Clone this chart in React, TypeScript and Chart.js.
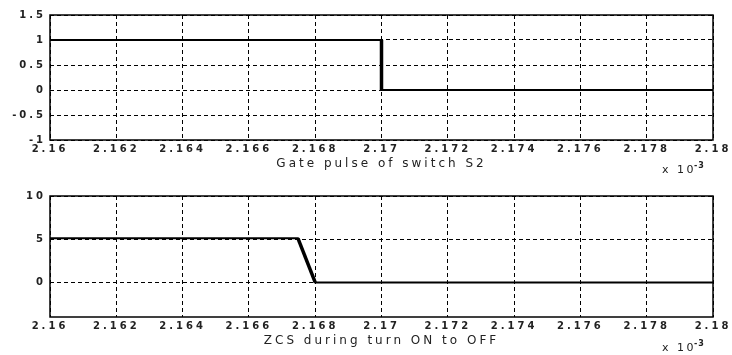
import React, { useEffect, useRef } from 'react';
import { Chart, registerables } from 'chart.js';

Chart.register(...registerables);

// ---- data ----
const xTicks = [2.16, 2.162, 2.164, 2.166, 2.168, 2.17, 2.172, 2.174, 2.176, 2.178, 2.18];
const xTickLabels = ['2.16', '2.162', '2.164', '2.166', '2.168', '2.17', '2.172', '2.174', '2.176', '2.178', '2.18'];

const gateX = [2.16, 2.17, 2.17, 2.18];
const gateY = [1, 1, 0, 0];
const gateYTicks = [-1, -0.5, 0, 0.5, 1, 1.5];
const gateYLabels = ['-1', '-0.5', '0', '0.5', '1', '1.5'];
const gateTitle = 'Gate pulse of switch S2';

const zcsX = [2.16, 2.16748, 2.168, 2.18];
const zcsY = [5.1, 5.1, 0, 0];
const zcsYTicks = [0, 5, 10];
const zcsYLabels = ['0', '5', '10'];
const zcsTitle = 'ZCS during turn ON to OFF';

const xScaleLabel = 'x 10';
const xScaleExp = '-3';

const FONT = '"DejaVu Sans", sans-serif';
const TICK_SPACING = '3px';
const TITLE_SPACING = '3px';
const TEXT = '#222';

const framePlugin = {
  id: 'frame',
  beforeDraw(chart: any) {
    const ctx = chart.ctx;
    ctx.letterSpacing = TICK_SPACING;
    const sx = chart.scales.x;
    if (sx && !sx._titlePatched) {
      const orig = sx.drawTitle.bind(sx);
      sx.drawTitle = () => {
        ctx.save();
        ctx.letterSpacing = TITLE_SPACING;
        orig();
        ctx.restore();
      };
      sx._titlePatched = true;
    }
  },
  afterDraw(chart: any) {
    const { ctx, chartArea } = chart;
    ctx.save();
    ctx.strokeStyle = '#000';
    ctx.lineWidth = 1.5;
    ctx.setLineDash([]);
    ctx.strokeRect(chartArea.left, chartArea.top, chartArea.right - chartArea.left, chartArea.bottom - chartArea.top);
    // x 10^-3 multiplier
    ctx.fillStyle = TEXT;
    ctx.textBaseline = 'middle';
    ctx.textAlign = 'left';
    ctx.font = `11px ${FONT}`;
    ctx.letterSpacing = '2.5px';
    ctx.fillText(xScaleLabel, 662, 170);
    const w = ctx.measureText(xScaleLabel).width;
    ctx.font = `bold 8px ${FONT}`;
    ctx.letterSpacing = '1px';
    ctx.fillText(xScaleExp, 662 + w - 2, 166);
    ctx.restore();
  },
};

function makeConfig(
  xs: number[],
  ys: number[],
  edge: [number, number],
  yMin: number,
  yMax: number,
  yTicks: number[],
  yLabels: string[],
  title: string,
  topPad: number
): any {
  const pts = xs.map((x, i) => ({ x, y: ys[i] }));
  const edgePts = pts.slice(edge[0], edge[1] + 1);
  const grid = {
    color: '#000',
    lineWidth: 1,
    drawTicks: false,
    tickLength: 0,
  };
  const font = { family: FONT, size: 10, weight: 'bold' };
  return {
    type: 'line',
    data: {
      datasets: [
        {
          data: pts,
          borderColor: '#000',
          borderWidth: 2,
          pointRadius: 0,
          tension: 0,
          borderJoinStyle: 'miter',
        },
        {
          data: edgePts,
          borderColor: '#000',
          borderWidth: 3.5,
          pointRadius: 0,
          tension: 0,
        },
      ],
    },
    options: {
      animation: false,
      responsive: false,
      events: [],
      layout: { padding: { top: topPad, right: 19, left: 0, bottom: 0 } },
      plugins: { legend: { display: false }, tooltip: { enabled: false } },
      scales: {
        x: {
          type: 'linear',
          min: xTicks[0],
          max: xTicks[xTicks.length - 1],
          afterBuildTicks: (s: any) => {
            s.ticks = xTicks.map((v) => ({ value: v }));
          },
          afterFit: (s: any) => {
            s.height = 38;
          },
          grid: { ...grid },
          border: { display: false, dash: [4, 3] },
          ticks: {
            autoSkip: false,
            maxRotation: 0,
            padding: 3,
            color: TEXT,
            font,
            callback: (_v: any, i: number) => xTickLabels[i],
          },
          title: {
            display: true,
            text: title,
            color: TEXT,
            font: { family: FONT, size: 12 },
            padding: { top: 0, bottom: 7 },
          },
        },
        y: {
          type: 'linear',
          min: yMin,
          max: yMax,
          afterBuildTicks: (s: any) => {
            s.ticks = yTicks.map((v) => ({ value: v }));
          },
          afterFit: (s: any) => {
            s.width = 50;
          },
          grid: { ...grid },
          border: { display: false, dash: [4, 3] },
          ticks: {
            padding: 4,
            color: TEXT,
            font,
            callback: (_v: any, i: number) => yLabels[i],
          },
        },
      },
    },
    plugins: [framePlugin],
  };
}

function Panel({ config, top, height }: { config: any; top: number; height: number }) {
  const ref = useRef<HTMLCanvasElement | null>(null);
  useEffect(() => {
    if (!ref.current) return;
    const chart = new Chart(ref.current, config);
    return () => chart.destroy();
  }, [config]);
  return (
    <canvas
      ref={ref}
      width={732}
      height={height}
      style={{ position: 'absolute', left: 0, top, width: 732, height }}
    />
  );
}

const topConfig = makeConfig(gateX, gateY, [1, 2], -1, 1.5, gateYTicks, gateYLabels, gateTitle, 15);
const bottomConfig = makeConfig(zcsX, zcsY, [1, 2], -4, 10, zcsYTicks, zcsYLabels, zcsTitle, 18);

export default function App() {
  return (
    <div style={{ position: 'fixed', left: 0, top: 0, width: 732, height: 355, background: '#fff' }}>
      <Panel config={topConfig} top={0} height={178} />
      <Panel config={bottomConfig} top={178} height={177} />
    </div>
  );
}
